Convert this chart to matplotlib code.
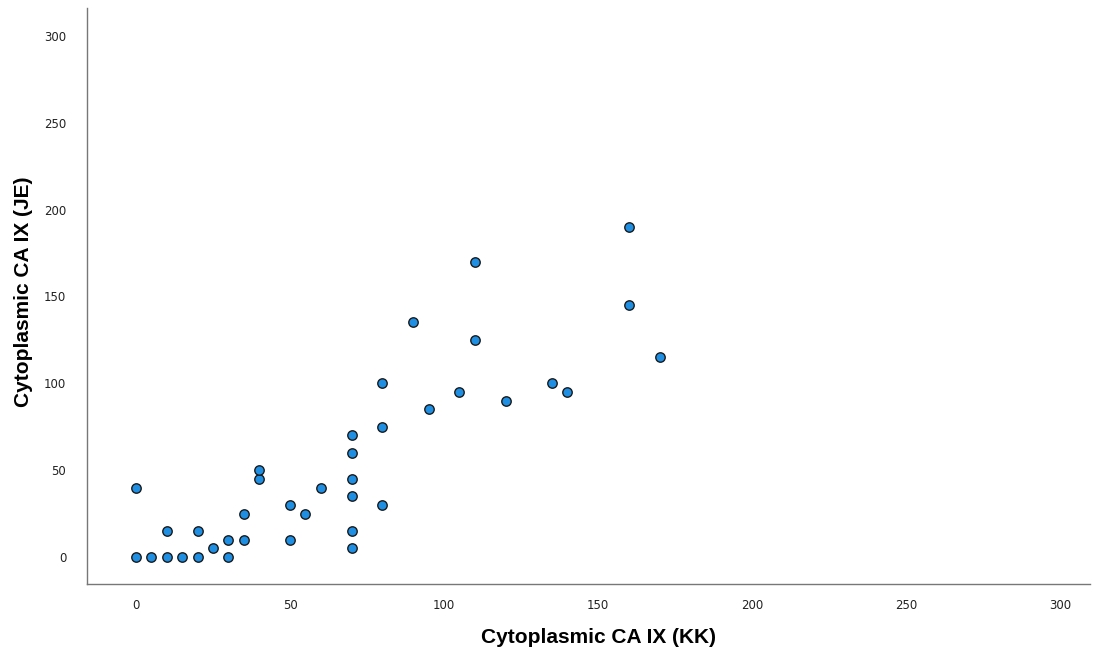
import matplotlib
matplotlib.use("Agg")
import matplotlib.pyplot as plt

kk = [0, 0, 5, 10, 10, 15, 20, 20, 25, 30, 30, 35, 35, 40, 40, 50, 50, 55, 60,
      70, 70, 70, 70, 70, 70, 80, 80, 80, 90, 95, 105, 110, 110, 120, 135, 140,
      160, 160, 170]
je = [40, 0, 0, 0, 15, 0, 0, 15, 5, 0, 10, 10, 25, 45, 50, 10, 30, 25, 40,
      5, 15, 35, 45, 60, 70, 30, 75, 100, 135, 85, 95, 125, 170, 90, 100, 95,
      145, 190, 115]
ticks = [0, 50, 100, 150, 200, 250, 300]

fig = plt.figure(figsize=(11.02, 6.56), dpi=100)
ax = fig.add_axes([87/1102, 72/656, (1090-87)/1102, (584-8)/656])
ax.scatter(kk, je, s=46, facecolor="#1f8fe3", edgecolor="#1a1a1a",
           linewidth=1.0, zorder=3)
ax.set_xlim(-15.9, 309.7)
ax.set_ylim(-15.5, 316)
ax.set_xticks(ticks)
ax.set_yticks(ticks)
for s in ["top", "right"]:
    ax.spines[s].set_visible(False)
for s in ["left", "bottom"]:
    ax.spines[s].set_color("#777777")
    ax.spines[s].set_linewidth(1.0)
ax.tick_params(axis="x", length=0, pad=11, labelsize=8.5, labelcolor="#222222")
ax.tick_params(axis="y", length=0, pad=15, labelsize=8.5, labelcolor="#222222")
ax.set_xlabel("Cytoplasmic CA IX (KK)", fontsize=15, fontweight="bold",
              family="Liberation Sans", labelpad=11)
ax.set_ylabel("Cytoplasmic CA IX (JE)", fontsize=15, fontweight="bold",
              family="Liberation Sans", labelpad=8)
ax.xaxis.label.set_x(0.51)
ax.yaxis.label.set_y(0.508)
fig.savefig("out.png", dpi=100)
